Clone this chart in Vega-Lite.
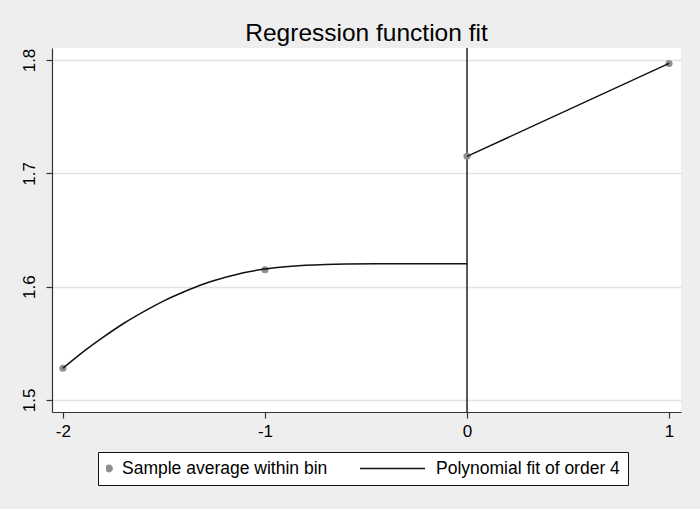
{
  "$schema": "https://vega.github.io/schema/vega-lite/v6.json",
  "width": 629,
  "height": 364,
  "autosize": {"type": "none"},
  "padding": {"left": 52, "top": 48, "right": 19, "bottom": 97},
  "background": "#eeeeee",
  "title": {"text": "Regression function fit", "fontSize": 24.5, "font": "Liberation Sans", "fontWeight": "normal", "color": "#000000", "anchor": "middle", "offset": 1},
  "config": {
    "view": {"fill": "#ffffff", "stroke": null},
    "font": "Liberation Sans",
    "axis": {"labelFont": "Liberation Sans", "labelFontSize": 17, "labelColor": "#000000", "domainColor": "#333333", "tickColor": "#333333", "domainWidth": 1.2, "tickWidth": 1.2, "tickSize": 6, "title": null},
    "legend": {"labelFont": "Liberation Sans", "labelFontSize": 17.5, "labelColor": "#000000", "labelLimit": 0}
  },
  "datasets": {
    "points": [
      {"x": -2, "y": 1.528, "series": "Sample average within bin"},
      {"x": -1, "y": 1.615, "series": "Sample average within bin"},
      {"x": 0, "y": 1.715, "series": "Sample average within bin"},
      {"x": 1, "y": 1.797, "series": "Sample average within bin"}
    ],
    "fit": [
      {"x": -2.0, "y": 1.528, "seg": "left", "series": "Polynomial fit of order 4"},
      {"x": -1.9, "y": 1.5425, "seg": "left", "series": "Polynomial fit of order 4"},
      {"x": -1.8, "y": 1.5555, "seg": "left", "series": "Polynomial fit of order 4"},
      {"x": -1.7, "y": 1.5675, "seg": "left", "series": "Polynomial fit of order 4"},
      {"x": -1.6, "y": 1.578, "seg": "left", "series": "Polynomial fit of order 4"},
      {"x": -1.5, "y": 1.5875, "seg": "left", "series": "Polynomial fit of order 4"},
      {"x": -1.4, "y": 1.5955, "seg": "left", "series": "Polynomial fit of order 4"},
      {"x": -1.3, "y": 1.6025, "seg": "left", "series": "Polynomial fit of order 4"},
      {"x": -1.2, "y": 1.608, "seg": "left", "series": "Polynomial fit of order 4"},
      {"x": -1.1, "y": 1.6125, "seg": "left", "series": "Polynomial fit of order 4"},
      {"x": -1.0, "y": 1.6155, "seg": "left", "series": "Polynomial fit of order 4"},
      {"x": -0.9, "y": 1.6175, "seg": "left", "series": "Polynomial fit of order 4"},
      {"x": -0.8, "y": 1.6188, "seg": "left", "series": "Polynomial fit of order 4"},
      {"x": -0.7, "y": 1.6196, "seg": "left", "series": "Polynomial fit of order 4"},
      {"x": -0.6, "y": 1.62, "seg": "left", "series": "Polynomial fit of order 4"},
      {"x": -0.4, "y": 1.6202, "seg": "left", "series": "Polynomial fit of order 4"},
      {"x": -0.2, "y": 1.6202, "seg": "left", "series": "Polynomial fit of order 4"},
      {"x": 0.0, "y": 1.6202, "seg": "left", "series": "Polynomial fit of order 4"},
      {"x": 0.0, "y": 1.715, "seg": "right", "series": "Polynomial fit of order 4"},
      {"x": 1.0, "y": 1.797, "seg": "right", "series": "Polynomial fit of order 4"}
    ],
    "cutoff": [{"x": 0}]
  },
  "layer": [
    {
      "data": {"name": "cutoff"},
      "mark": {"type": "rule", "color": "#222222", "strokeWidth": 1.5},
      "encoding": {"x": {"field": "x", "type": "quantitative"}}
    },
    {
      "data": {"name": "points"},
      "mark": {"type": "point", "filled": true, "size": 50, "opacity": 1},
      "encoding": {
        "x": {"field": "x", "type": "quantitative"},
        "y": {"field": "y", "type": "quantitative"},
        "color": {"field": "series", "type": "nominal"}
      }
    },
    {
      "data": {"name": "fit"},
      "mark": {"type": "line", "strokeWidth": 1.5, "interpolate": "natural"},
      "encoding": {
        "x": {"field": "x", "type": "quantitative",
              "scale": {"domain": [-2.054, 1.059], "nice": false, "zero": false},
              "axis": {"values": [-2, -1, 0, 1], "grid": false, "labelExpr": "'' + datum.value", "labelPadding": 5}},
        "y": {"field": "y", "type": "quantitative",
              "scale": {"domain": [1.4894, 1.8106], "nice": false, "zero": false},
              "axis": {"values": [1.5, 1.6, 1.7, 1.8], "grid": true, "gridColor": "#e2e2e2", "gridWidth": 1.5, "labelAngle": 270, "labelAlign": "center", "labelBaseline": "bottom", "labelPadding": 8, "labelExpr": "format(datum.value, '.1f')"}},
        "detail": {"field": "seg"},
        "color": {"field": "series", "type": "nominal",
                  "scale": {"domain": ["Sample average within bin", "Polynomial fit of order 4"], "range": ["#8f8f8f", "#111111"]},
                  "legend": {
                    "title": null, "orient": "none", "legendX": 46, "legendY": 404, "direction": "horizontal",
                    "padding": 8, "strokeColor": "#111111", "fillColor": "#ffffff", "cornerRadius": 0,
                    "symbolSize": 100, "columnPadding": 32, "clipHeight": 17,
                    "encode": {
                      "symbols": {"update": {
                        "shape": {"signal": "datum.value === 'Sample average within bin' ? 'circle' : 'stroke'"},
                        "size": {"signal": "datum.value === 'Sample average within bin' ? 40 : 4225"},
                        "fill": {"signal": "datum.value === 'Sample average within bin' ? '#8f8f8f' : 'transparent'"},
                        "stroke": {"signal": "datum.value === 'Sample average within bin' ? 'transparent' : '#111111'"},
                        "strokeWidth": {"value": 1.5},
                        "opacity": {"value": 1},
                        "x": {"signal": "datum.value === 'Sample average within bin' ? 3 : 32.5"}
                      }},
                      "labels": {"update": {
                        "x": {"signal": "datum.value === 'Sample average within bin' ? 16 : 76"}
                      }}
                    }
                  }}
      }
    }
  ]
}
